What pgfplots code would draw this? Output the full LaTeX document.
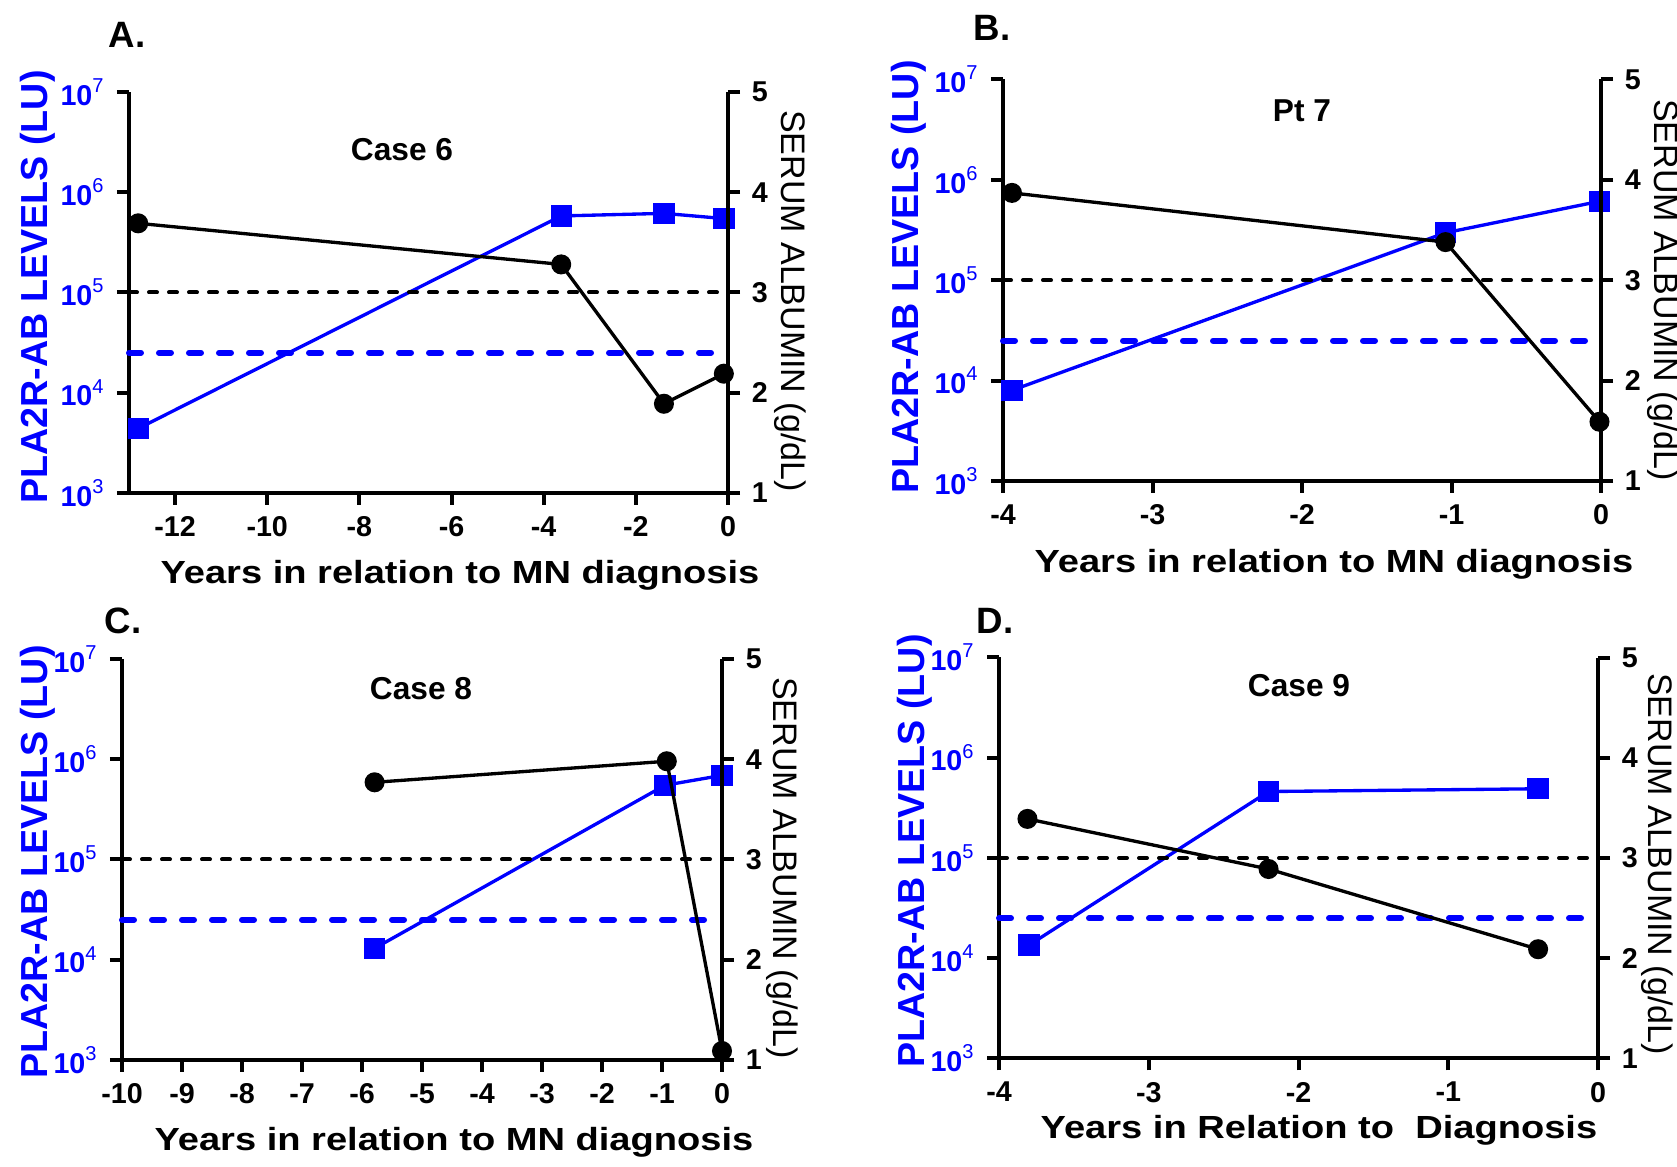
\documentclass[border=0pt]{standalone}
\usepackage{pgfplots}
\pgfplotsset{compat=1.18}
\usepackage{fontspec}
\setmainfont{Liberation Sans}
\newfontfamily\stretchfont[FakeStretch=1.19]{Liberation Sans}
\definecolor{pblue}{RGB}{0,0,255}
\newcommand\tenp[1]{10\textsuperscript{\mdseries #1}}
\newcommand\tickfont{\fontsize{8.6pt}{9.5pt}\selectfont\bfseries}
\newcommand\xlabfont{\stretchfont\fontsize{9.6pt}{11pt}\selectfont\bfseries}
\newcommand\ylabfont{\fontsize{11.3pt}{13pt}\selectfont\bfseries}
\newcommand\rlabfont{\fontsize{10.2pt}{12pt}\selectfont}
\newcommand\panfont{\fontsize{11pt}{13pt}\selectfont\bfseries}
\newcommand\titfont{\fontsize{9.5pt}{11pt}\selectfont\bfseries}
\pgfplotsset{
 mybase/.style={scale only axis, clip=false,
   axis line style={line width=1.2pt},
   tick style={line width=1.2pt, black},
   major tick length=3.6pt, tick align=outside,
   ticklabel style={font=\tickfont}},
 myleft/.style={mybase, ymin=1e3, ymax=1e7,
   axis y line*=left, axis x line*=bottom,
   ytick={1e3,1e4,1e5,1e6,1e7},
   yticklabels={\tenp{3},\tenp{4},\tenp{5},\tenp{6},\tenp{7}},
   yticklabel style={text=pblue}},
 myright/.style={mybase, ymin=1, ymax=5,
   axis y line*=right, axis x line=none, xtick=\empty,
   ytick={1,2,3,4,5}, yticklabels={1,2,3,4,5}},
 mybl/.style={pblue, line width=1pt, mark=square*, mark size=2.7pt, mark options={solid}},
 mybk/.style={black, line width=1pt, mark=*, mark size=2.5pt, mark options={solid}},
 mybdash/.style={pblue, line width=1.8pt, line cap=round, dash pattern=on 3.6pt off 5.4pt, no marks},
 mykdash/.style={black, line width=1.2pt, line cap=round, dash pattern=on 2.4pt off 3.6pt, no marks},
}
\begin{document}
\begin{tikzpicture}
\useasboundingbox (0,0) rectangle (503.1pt,350.1pt);

% ---------------- Panel A ----------------
\begin{axis}[ymode=log, myleft, yminorticks=false, at={(38.7pt,202.2pt)}, anchor=south west, width=179.7pt, height=120.3pt,
  xmin=-13, xmax=0, xtick={-12,-10,-8,-6,-4,-2,0}, xticklabels={-12,-10,-8,-6,-4,-2,0}]
\addplot[mybdash] coordinates {(-13,25000) (-0.35,25000)};
\addplot[mybl] coordinates {(-12.8,4400) (-3.62,580000) (-1.39,615000) (-0.09,546000)};
\end{axis}
\begin{axis}[myright, at={(38.7pt,202.2pt)}, anchor=south west, width=179.7pt, height=120.3pt,
  xmin=-13, xmax=0]
\addplot[mykdash] coordinates {(-13,3) (0,3)};
\addplot[mybk] coordinates {(-12.8,3.69) (-3.62,3.28) (-1.39,1.89) (-0.09,2.19)};
\end{axis}

% ---------------- Panel B ----------------
\begin{axis}[ymode=log, myleft, yminorticks=false, at={(300.9pt,205.8pt)}, anchor=south west, width=179.4pt, height=120.45pt,
  xmin=-4, xmax=0, xtick={-4,-3,-2,-1,0}, xticklabels={-4,-3,-2,-1,0}]
\addplot[mybdash] coordinates {(-4,25000) (-0.09,25000)};
\addplot[mybl] coordinates {(-3.94,8000) (-1.04,297000) (-0.01,611000)};
\end{axis}
\begin{axis}[myright, at={(300.9pt,205.8pt)}, anchor=south west, width=179.4pt, height=120.45pt,
  xmin=-4, xmax=0]
\addplot[mykdash] coordinates {(-4,3) (0,3)};
\addplot[mybk] coordinates {(-3.94,3.87) (-1.04,3.38) (-0.01,1.59)};
\end{axis}

% ---------------- Panel C ----------------
\begin{axis}[ymode=log, myleft, yminorticks=false, at={(36.6pt,32.1pt)}, anchor=south west, width=180pt, height=120.3pt,
  xmin=-10, xmax=0, xtick={-10,-9,-8,-7,-6,-5,-4,-3,-2,-1,0},
  xticklabels={-10,-9,-8,-7,-6,-5,-4,-3,-2,-1,0}]
\addplot[mybdash] coordinates {(-10,25000) (-0.27,25000)};
\addplot[mybl] coordinates {(-5.79,13000) (-0.95,550000) (0,690000)};
\end{axis}
\begin{axis}[myright, at={(36.6pt,32.1pt)}, anchor=south west, width=180pt, height=120.3pt,
  xmin=-10, xmax=0]
\addplot[mykdash] coordinates {(-10,3) (0,3)};
\addplot[mybk] coordinates {(-5.79,3.77) (-0.92,3.98) (0,1.09)};
\end{axis}

% ---------------- Panel D ----------------
\begin{axis}[ymode=log, myleft, yminorticks=false, at={(299.7pt,32.55pt)}, anchor=south west, width=179.7pt, height=120.3pt,
  xmin=-4, xmax=0, xtick={-4,-3,-2,-1,0}, xticklabels={-4,-3,-2,-1,0}]
\addplot[mybdash] coordinates {(-4,25000) (-0.09,25000)};
\addplot[mybl] coordinates {(-3.80,13500) (-2.2,460000) (-0.40,490000)};
\end{axis}
\begin{axis}[myright, at={(299.7pt,32.55pt)}, anchor=south west, width=179.7pt, height=120.3pt,
  xmin=-4, xmax=0]
\addplot[mykdash] coordinates {(-4,3) (0,3)};
\addplot[mybk] coordinates {(-3.81,3.39) (-2.2,2.89) (-0.40,2.09)};
\end{axis}

% ---------------- Text ----------------
\node[font=\panfont] at (38.1pt,339.6pt) {A.};
\node[font=\panfont] at (297.6pt,341.7pt) {B.};
\node[font=\panfont] at (36.9pt,163.8pt) {C.};
\node[font=\panfont] at (298.5pt,163.8pt) {D.};
\node[font=\ylabfont, text=pblue, rotate=90] at (11.4pt,264.0pt) {PLA2R-AB LEVELS (LU)};
\node[font=\ylabfont, text=pblue, rotate=90] at (272.7pt,267.0pt) {PLA2R-AB LEVELS (LU)};
\node[font=\ylabfont, text=pblue, rotate=90] at (11.4pt,91.5pt) {PLA2R-AB LEVELS (LU)};
\node[font=\ylabfont, text=pblue, rotate=90] at (274.5pt,94.8pt) {PLA2R-AB LEVELS (LU)};
\node[font=\rlabfont, rotate=-90] at (237.0pt,259.8pt) {SERUM ALBUMIN (g/dL)};
\node[font=\rlabfont, rotate=-90] at (498.9pt,263.1pt) {SERUM ALBUMIN (g/dL)};
\node[font=\rlabfont, rotate=-90] at (234.6pt,89.7pt) {SERUM ALBUMIN (g/dL)};
\node[font=\rlabfont, rotate=-90] at (497.1pt,90.9pt) {SERUM ALBUMIN (g/dL)};
\node[font=\xlabfont, anchor=base] at (138.0pt,174.9pt) {Years in relation to MN diagnosis};
\node[font=\xlabfont, anchor=base] at (400.2pt,178.2pt) {Years in relation to MN diagnosis};
\node[font=\xlabfont, anchor=base] at (136.2pt,4.8pt) {Years in relation to MN diagnosis};
\node[font=\xlabfont, anchor=base] at (395.7pt,8.4pt) {Years in Relation to\ \ Diagnosis};
\node[font=\titfont] at (120.6pt,305.1pt) {Case 6};
\node[font=\titfont] at (390.6pt,316.8pt) {Pt 7};
\node[font=\titfont] at (126.3pt,143.4pt) {Case 8};
\node[font=\titfont] at (389.7pt,144.3pt) {Case 9};
\end{tikzpicture}
\end{document}
